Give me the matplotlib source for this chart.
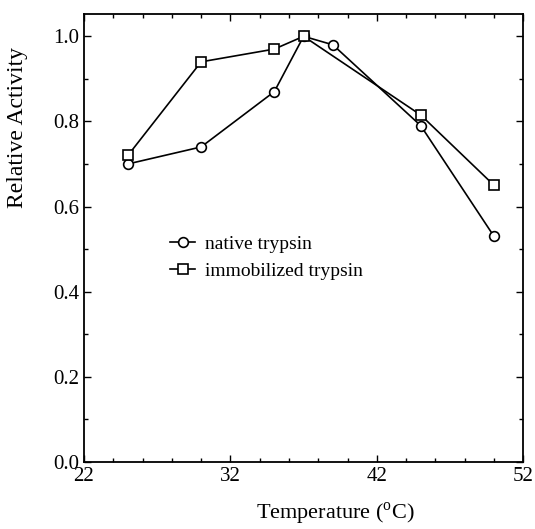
import matplotlib
matplotlib.use("Agg")
import matplotlib.pyplot as plt
from matplotlib.ticker import MultipleLocator

plt.rcParams['font.family'] = ['Liberation Serif', 'DejaVu Serif']
plt.rcParams['mathtext.fontset'] = 'custom'
plt.rcParams['mathtext.rm'] = 'Liberation Serif'

native_temp = [25, 30, 35, 37, 39, 45, 50]
native_act = [0.70, 0.74, 0.87, 1.00, 0.98, 0.79, 0.53]
immob_temp = [25, 30, 35, 37, 45, 50]
immob_act = [0.72, 0.94, 0.97, 1.00, 0.815, 0.65]
x_ticks = [22, 32, 42, 52]
y_ticks = [0.0, 0.2, 0.4, 0.6, 0.8, 1.0]

fig = plt.figure(figsize=(5.35, 5.29), dpi=100)
ax = fig.add_axes([0.157, 0.127, 0.821, 0.847])

ax.plot(native_temp, native_act, '-o', color='black', lw=1.2, ms=7,
        mfc='white', mec='black', mew=1.2, label='native trypsin')
ax.plot(immob_temp, immob_act, '-s', color='black', lw=1.2, ms=7,
        mfc='white', mec='black', mew=1.2, label='immobilized trypsin')

ax.set_xlim(22, 52)
ax.set_ylim(0, 1.053)
ax.set_xticks(x_ticks)
ax.set_yticks(y_ticks)
ax.set_yticklabels([f"{v:.1f}" for v in y_ticks])
ax.xaxis.set_minor_locator(MultipleLocator(2))
ax.yaxis.set_minor_locator(MultipleLocator(0.1))
ax.tick_params(which='both', direction='in', top=True, right=True, labelsize=15)
ax.tick_params(which='major', length=5, width=1)
ax.tick_params(which='minor', length=3, width=1)
for s in ax.spines.values():
    s.set_linewidth(1.3)

ax.set_xlabel(r'Temperature ($^{\mathrm{o}}$C)', fontsize=16)
ax.xaxis.set_label_coords(0.572, -0.087)
ax.set_ylabel('Relative Activity', fontsize=17)
ax.yaxis.set_label_coords(-0.128, 0.746)

ax.legend(loc='upper left', bbox_to_anchor=(0.196, 0.505), frameon=False,
          fontsize=14, handlelength=1.3, handletextpad=0.5,
          borderaxespad=0, borderpad=0, labelspacing=0.45)

fig.savefig('out.png', dpi=100)
